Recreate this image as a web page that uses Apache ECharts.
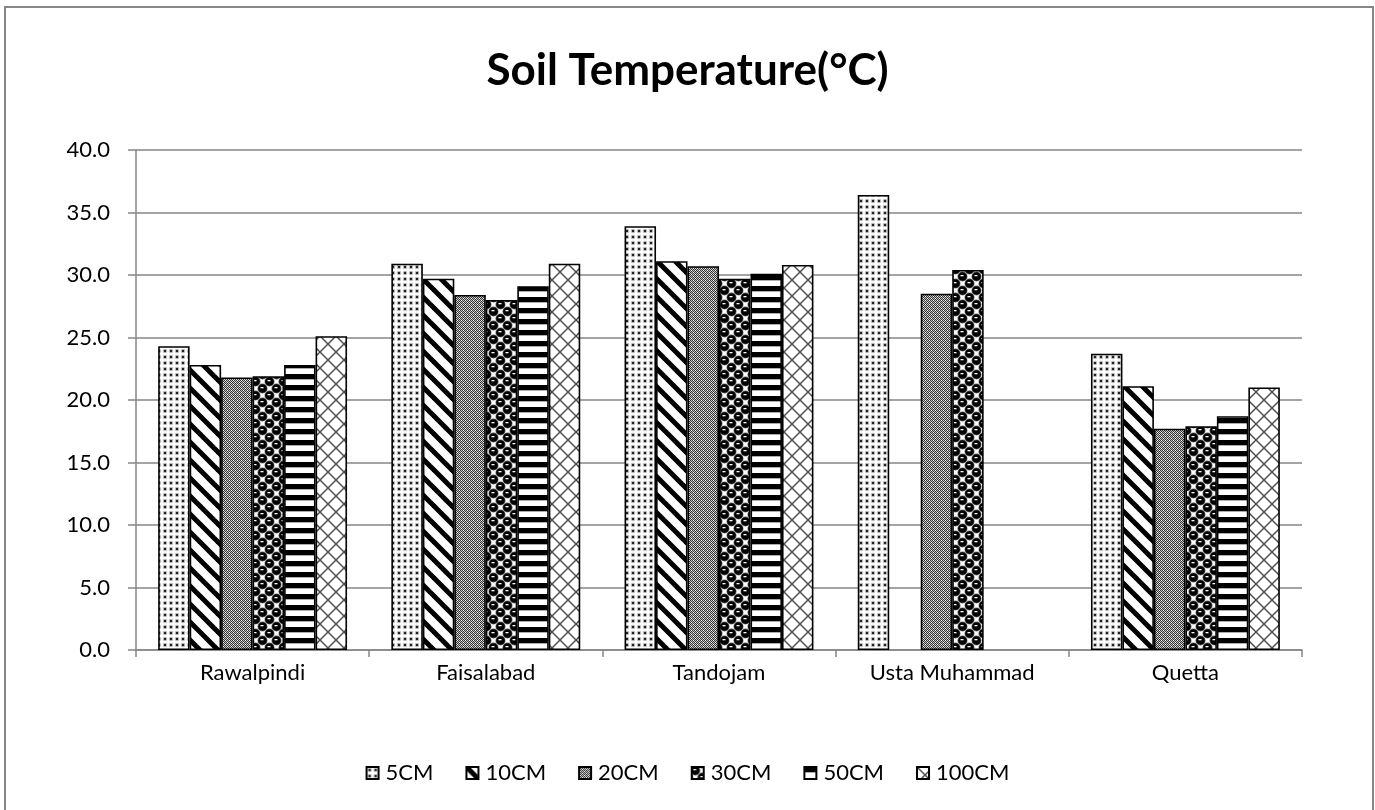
<!DOCTYPE html>
<html>
<head>
<meta charset="utf-8">
<script src="https://cdn.jsdelivr.net/npm/echarts@6/dist/echarts.min.js"></script>
<style>
html,body{margin:0;padding:0;background:#fff;}
#chart{width:1375px;height:810px;}
</style>
</head>
<body>
<div id="chart"></div>
<script>
const categories = ['Rawalpindi', 'Faisalabad', 'Tandojam', 'Usta Muhammad', 'Quetta'];
const seriesNames = ['5CM', '10CM', '20CM', '30CM', '50CM', '100CM'];
const s5CM   = [24.3, 30.9, 33.9, 36.4, 23.7];
const s10CM  = [22.8, 29.7, 31.1, null, 21.1];
const s20CM  = [21.8, 28.4, 30.7, 28.5, 17.7];
const s30CM  = [21.9, 28.0, 29.7, 30.4, 17.9];
const s50CM  = [22.8, 29.1, 30.1, null, 18.7];
const s100CM = [25.1, 30.9, 30.8, null, 21.0];
const yMin = 0, yMax = 40, yStep = 5;

const FONT = 'Lato';

function tile(w, h, draw) {
  const c = document.createElement('canvas');
  c.width = w; c.height = h;
  const ctx = c.getContext('2d');
  ctx.fillStyle = '#fff';
  ctx.fillRect(0, 0, w, h);
  draw(ctx, w, h);
  return { image: c, repeat: 'repeat' };
}

const patterns = [
  // 5CM: dotted
  tile(6, 6, (ctx) => {
    ctx.fillStyle = '#b8b8b8';
    ctx.beginPath(); ctx.arc(3, 3, 2.3, 0, Math.PI * 2); ctx.fill();
    ctx.fillStyle = '#222';
    ctx.fillRect(2, 2, 2, 2);
  }),
  // 10CM: wide downward diagonal
  tile(18, 18, (ctx, w) => {
    ctx.strokeStyle = '#000';
    ctx.lineWidth = 5;
    for (const k of [-w, 0, w]) {
      ctx.beginPath(); ctx.moveTo(k - 2, -2); ctx.lineTo(k + w + 2, w + 2); ctx.stroke();
    }
  }),
  // 20CM: fine checker
  tile(4, 4, (ctx) => {
    ctx.fillStyle = '#c8c8c8'; ctx.fillRect(0, 0, 4, 4);
    ctx.fillStyle = '#333';
    ctx.fillRect(0, 0, 1, 1); ctx.fillRect(2, 0, 1, 1);
    ctx.fillRect(1, 1, 1, 1); ctx.fillRect(3, 1, 1, 1);
    ctx.fillRect(0, 2, 1, 1); ctx.fillRect(2, 2, 1, 1);
    ctx.fillRect(1, 3, 1, 1); ctx.fillRect(3, 3, 1, 1);
    ctx.fillStyle = '#fff';
    ctx.fillRect(1, 0, 1, 1); ctx.fillRect(3, 2, 1, 1);
  }),
  // 30CM: spheres
  tile(14, 14, (ctx) => {
    const pts = [[3.5, 3.5], [10.5, 10.5], [-3.5, 10.5], [17.5, 3.5], [3.5, 17.5], [10.5, -3.5]];
    for (const [cx, cy] of pts) {
      ctx.fillStyle = '#666';
      ctx.beginPath(); ctx.arc(cx, cy, 5.0, 0, Math.PI * 2); ctx.fill();
      ctx.fillStyle = '#000';
      ctx.beginPath(); ctx.arc(cx, cy, 4.3, 0, Math.PI * 2); ctx.fill();
      ctx.fillStyle = '#fff';
      ctx.fillRect(cx - 2, cy - 1.5, 3, 1.3);
    }
  }),
  // 50CM: horizontal stripes
  tile(4, 11, (ctx) => {
    ctx.fillStyle = '#000'; ctx.fillRect(0, 0, 4, 5);
    ctx.fillStyle = '#777'; ctx.fillRect(0, 5, 4, 0.6);
  }),
  // 100CM: diagonal lattice
  tile(16, 16, (ctx, w) => {
    ctx.strokeStyle = '#4a4a4a';
    ctx.lineWidth = 1.4;
    for (const k of [-w, 0, w]) {
      ctx.beginPath(); ctx.moveTo(k, 0); ctx.lineTo(k + w, w); ctx.stroke();
      ctx.beginPath(); ctx.moveTo(k + w, 0); ctx.lineTo(k, w); ctx.stroke();
    }
  })
];

const allData = [s5CM, s10CM, s20CM, s30CM, s50CM, s100CM];

const chart = echarts.init(document.getElementById('chart'), null, { renderer: 'canvas' });
const option = {
  backgroundColor: '#fff',
  animation: false,
  title: {
    text: 'Soil Temperature(°C)',
    left: 'center',
    top: 44,
    textStyle: { fontFamily: FONT, fontSize: 44, fontWeight: 'bold', color: '#000' }
  },
  legend: {
    bottom: 21,
    left: 'center',
    icon: 'rect',
    itemWidth: 12,
    itemHeight: 12,
    itemGap: 32,
    textStyle: { fontFamily: FONT, fontSize: 22, color: '#000', padding: [0, 0, 0, 2] },
    data: seriesNames
  },
  grid: { left: 136, right: 73, top: 150, bottom: 160, containLabel: false },
  xAxis: {
    type: 'category',
    data: categories,
    axisLine: { lineStyle: { color: '#868686', width: 1.5 } },
    axisTick: { show: true, length: 7, lineStyle: { color: '#868686', width: 1.5 } },
    axisLabel: { fontFamily: FONT, fontSize: 22, color: '#000', margin: 12 }
  },
  yAxis: {
    type: 'value',
    min: yMin, max: yMax, interval: yStep,
    axisLine: { show: true, lineStyle: { color: '#868686', width: 1.5 } },
    axisTick: { show: true, length: 8, lineStyle: { color: '#868686', width: 1.5 } },
    splitLine: { lineStyle: { color: '#868686', width: 1.5 } },
    axisLabel: { fontFamily: FONT, fontSize: 22, color: '#000', margin: 26, formatter: v => v.toFixed(1) }
  },
  series: seriesNames.map((name, i) => ({
    name: name,
    type: 'bar',
    data: allData[i],
    barGap: '0%',
    barCategoryGap: '19%',
    itemStyle: { color: patterns[i], borderColor: '#000', borderWidth: 1.6 }
  })),
  graphic: [{
    type: 'rect',
    shape: { x: 5, y: 7, width: 1368, height: 830 },
    style: { fill: 'none', stroke: '#868686', lineWidth: 2 },
    silent: true
  }]
};
chart.setOption(option);
</script>
</body>
</html>
